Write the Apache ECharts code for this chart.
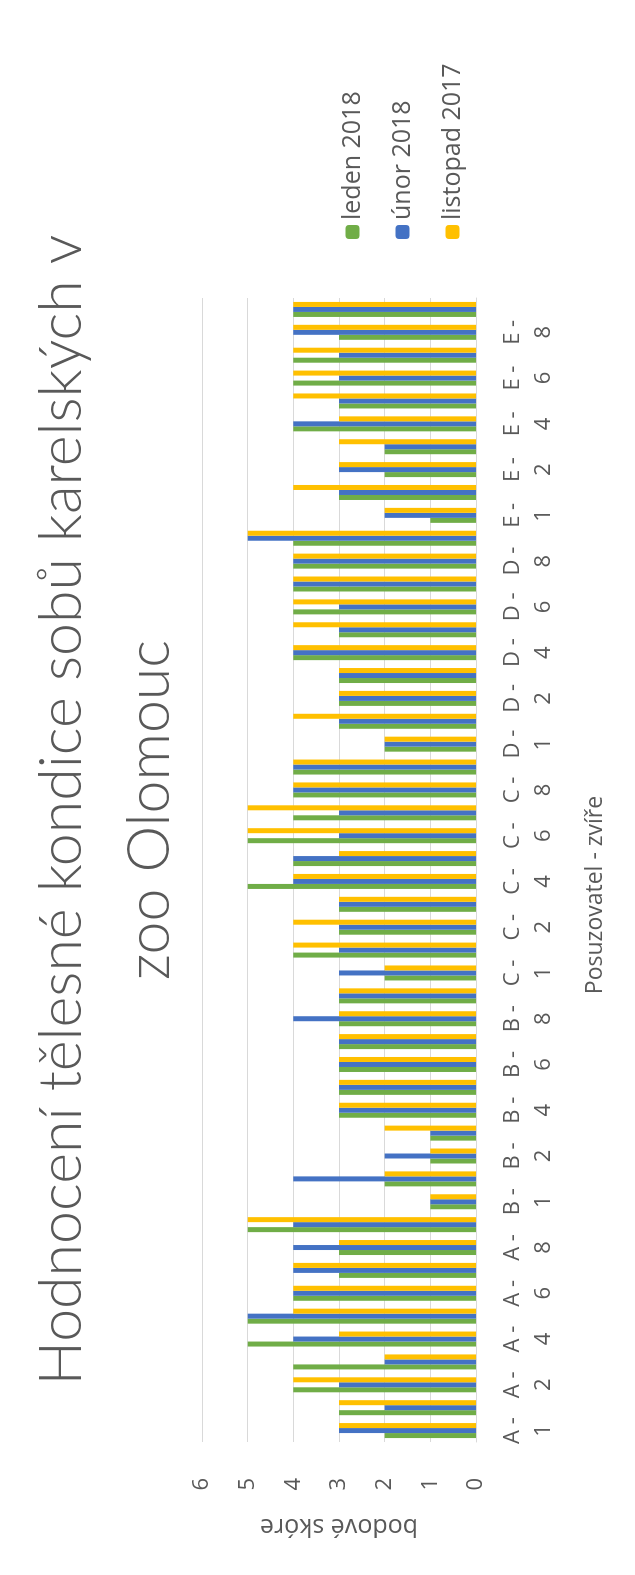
<!DOCTYPE html>
<html>
<head>
    <meta charset="utf-8">
    <script src="https://cdn.jsdelivr.net/npm/echarts@6/dist/echarts.min.js"></script>
    <style>
        body { margin: 0; background: #fff; }
        #wrap { position: absolute; left: 0; top: 0; width: 635px; height: 1575px; overflow: hidden; background: #fff; }
        #frame { position: absolute; left: 9px; top: 9px; width: 616px; height: 1555px; border: 1px solid #d9d9d9; }
        /* chart is drawn landscape and turned to stand upright like the source picture */
        #chart { position: absolute; width: 1575px; height: 635px; left: -470px; top: 470px; transform: rotate(-90deg); transform-origin: center; }
    </style>
</head>
<body>
<div id="wrap">
    <div id="frame"></div>
    <div id="chart"></div>
</div>
<script type="text/javascript">
    // posuzovatel - zvire (Excel text sort: 1, 10, 2 ... 9)
    var categories = [
        'A - 1','A - 10','A - 2','A - 3','A - 4','A - 5','A - 6','A - 7','A - 8','A - 9',
        'B - 1','B - 10','B - 2','B - 3','B - 4','B - 5','B - 6','B - 7','B - 8','B - 9',
        'C - 1','C - 10','C - 2','C - 3','C - 4','C - 5','C - 6','C - 7','C - 8','C - 9',
        'D - 1','D - 10','D - 2','D - 3','D - 4','D - 5','D - 6','D - 7','D - 8','D - 9',
        'E - 1','E - 10','E - 2','E - 3','E - 4','E - 5','E - 6','E - 7','E - 8','E - 9'
    ];
    var leden2018 = [
        2,3,4,4,5,5,4,3,3,5,
        1,2,1,1,3,3,3,3,3,3,
        2,4,3,3,5,4,5,4,4,4,
        2,3,3,3,4,3,4,4,4,4,
        1,3,2,2,4,3,4,4,3,4
    ];
    var unor2018 = [
        3,2,3,2,4,5,4,4,4,4,
        1,4,2,1,3,3,3,3,4,3,
        3,3,3,3,4,4,3,3,4,4,
        2,3,3,3,4,3,3,4,4,5,
        2,3,3,2,4,3,3,3,4,4
    ];
    var listopad2017 = [
        3,3,4,2,3,4,4,4,3,5,
        1,2,1,2,3,3,3,3,3,3,
        2,4,4,3,4,3,5,5,4,4,
        2,4,3,3,4,4,4,4,4,5,
        2,4,3,3,3,4,4,4,4,4
    ];
    var valueTicks = [0, 6, 1]; // min, max, interval

    var myChart = echarts.init(document.getElementById('chart'));
    var txt = '#595959';
    var font = '"Open Sans", Lato, sans-serif';
    var option = {
        backgroundColor: '#fff',
        textStyle: { fontFamily: font, color: txt },
        title: {
            text: 'Hodnocení tělesné kondice sobů karelských v\nzoo Olomouc',
            left: 765,
            textAlign: 'center',
            top: 18,
            padding: 0,
            textStyle: { fontFamily: 'Lato, sans-serif', fontSize: 59, fontWeight: 300, color: txt, lineHeight: 88 }
        },
        legend: {
            orient: 'vertical',
            left: 1331,
            top: 335,
            itemWidth: 14,
            itemHeight: 14,
            itemGap: 25,
            textStyle: { fontFamily: font, fontSize: 25, color: txt },
            data: ['leden 2018', 'únor 2018', 'listopad 2017']
        },
        grid: { left: 133, right: 298, top: 202, bottom: 159, containLabel: false },
        xAxis: {
            type: 'category',
            data: categories,
            name: 'Posuzovatel - zvíře',
            nameLocation: 'middle',
            nameGap: 108,
            nameTextStyle: { fontFamily: font, fontSize: 23, color: txt, padding: [0, 50, 0, 0] },
            axisLine: { lineStyle: { color: '#d9d9d9', width: 1 } },
            axisTick: { show: false },
            axisLabel: {
                interval: 1,
                margin: 21,
                fontSize: 22,
                lineHeight: 31,
                color: txt,
                formatter: function (v) { return v.replace(' - ', ' -\n'); }
            }
        },
        yAxis: {
            type: 'value',
            min: valueTicks[0],
            max: valueTicks[1],
            interval: valueTicks[2],
            name: 'bodové skóre',
            nameLocation: 'middle',
            nameGap: 72,
            nameTextStyle: { fontFamily: font, fontSize: 25, color: txt },
            axisLine: { show: false },
            axisTick: { show: false },
            axisLabel: { margin: 36, fontSize: 22, color: txt },
            splitLine: { lineStyle: { color: '#d9d9d9', width: 1 } }
        },
        series: [
            { name: 'leden 2018', type: 'bar', data: leden2018, barWidth: 5, barGap: '0%', itemStyle: { color: '#70AD47' } },
            { name: 'únor 2018', type: 'bar', data: unor2018, barWidth: 5, barGap: '0%', itemStyle: { color: '#4472C4' } },
            { name: 'listopad 2017', type: 'bar', data: listopad2017, barWidth: 5, barGap: '0%', itemStyle: { color: '#FFC000' } }
        ],
        animation: false
    };
    myChart.setOption(option);
</script>
</body>
</html>
